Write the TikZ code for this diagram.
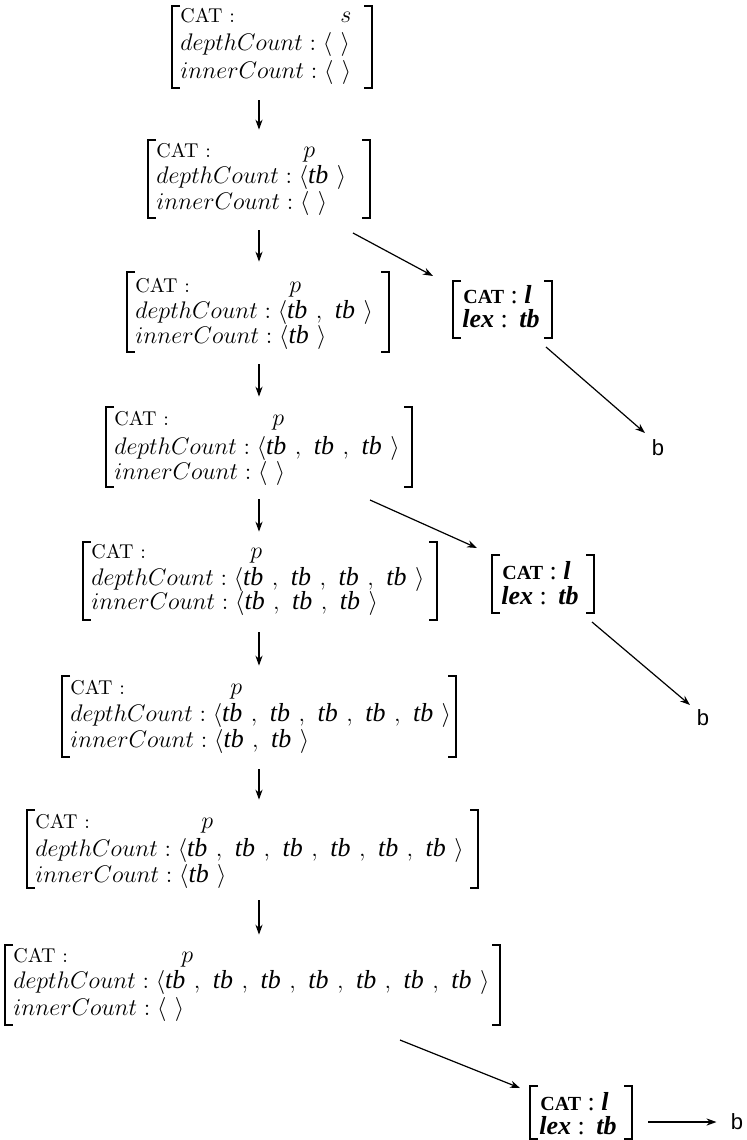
\documentclass[tikz,border=0pt]{standalone}
\usepackage{fontspec}
\usetikzlibrary{arrows.meta,fit}
\newfontfamily\tms{Liberation Serif}
\newfontfamily\tmsit{Liberation Serif Italic}
\newfontfamily\tmsbi{Liberation Serif Bold Italic}
\newfontfamily\hel{Liberation Sans}
\newcommand\tb{\mbox{\tmsit tb}}
% a bracketed attribute-value frame: name, left, top, right, bottom
\newcommand\avmframe[5]{%
  \draw[brk] (#2+8,#3) -- (#2,#3) -- (#2,#5) -- (#2+8,#5);
  \draw[brk] (#4-8,#3) -- (#4,#3) -- (#4,#5) -- (#4-8,#5);
  \node[fit={(#2,#3) (#4,#5)}, inner sep=0pt] (#1) {};
}
% the three rows of a large frame: name, left, y1, y2, y3, category, x of category, depth list, inner list
\newcommand\avmtext[9]{%
  \node[catf] (#1c) at (#2+8,#3+5) {CAT :};
  \node[fs] (#1v) at (#7,#3+5) {$#6$};
  \node[fs] (#1d) at (#2+8,#4+5) {$depthCount : #8$};
  \node[fs] (#1i) at (#2+8,#5+5) {$innerCount : #9$};
}
% the two rows of a lexical frame: name, left, y1, y2
\newcommand\lextext[4]{%
  \node[lexf] (#1c) at (#2+10,#3+5) {{\fontsize{10}{11}\selectfont\bfseries CAT} :};
  \node[lexf] (#1v) at (#2+71,#3+5) {\tmsbi l};
  \node[lexf] (#1l) at (#2+9,#4+5) {{\tmsbi lex} :};
  \node[lexf] (#1t) at (#2+66,#4+5) {\tmsbi tb};
}
\begin{document}
\begin{tikzpicture}[x=0.5pt, y=-0.5pt,
  brk/.style={line width=0.8pt},
  row/.style={inner sep=0pt, anchor=base west, text height=7.5pt, text depth=2pt},
  fs/.style={row, font=\fontsize{13}{15}\selectfont},
  catf/.style={row, font=\fontsize{10}{12}\selectfont},
  lexf/.style={row, font=\tms\fontsize{13}{15}\selectfont},
  leaf/.style={font=\hel\fontsize{11}{13}\selectfont, inner sep=0pt},
  arr/.style={-{Stealth[length=5pt,width=3.6pt]}, line width=0.6pt},
  down/.style={arr, shorten <=6pt, shorten >=5pt}]
\useasboundingbox (0,0) rectangle (746,1140);

% column of derivation steps
\avmframe{s1}{172}{6}{372}{88}
\avmtext{s1}{172}{17}{45}{73}{s}{340}{\langle\ \rangle}{\langle\ \rangle}

\avmframe{s2}{148}{140}{370}{218}
\avmtext{s2}{148}{152}{178}{204}{p}{303}{\langle\tb\ \rangle}{\langle\ \rangle}

\avmframe{s3}{127}{272}{389}{352}
\avmtext{s3}{127}{287}{313}{338}{p}{289}{\langle\tb\ ,\ \tb\ \rangle}{\langle\tb\ \rangle}

\avmframe{s4}{106}{407}{412}{487}
\avmtext{s4}{106}{420}{449}{474}{p}{272}{\langle\tb\ ,\ \tb\ ,\ \tb\ \rangle}{\langle\ \rangle}

\avmframe{s5}{83}{542}{437}{620}
\avmtext{s5}{83}{553}{580}{604}{p}{250}{\langle\tb\ ,\ \tb\ ,\ \tb\ ,\ \tb\ \rangle}{\langle\tb\ ,\ \tb\ ,\ \tb\ \rangle}

\avmframe{s6}{62}{676}{456}{757}
\avmtext{s6}{62}{689}{716}{742}{p}{230}{\langle\tb\ ,\ \tb\ ,\ \tb\ ,\ \tb\ ,\ \tb\ \rangle}{\langle\tb\ ,\ \tb\ \rangle}

\avmframe{s7}{27}{810}{478}{888}
\avmtext{s7}{27}{823}{851}{877}{p}{201}{\langle\tb\ ,\ \tb\ ,\ \tb\ ,\ \tb\ ,\ \tb\ ,\ \tb\ \rangle}{\langle\tb\ \rangle}

\avmframe{s8}{5}{945}{500}{1025}
\avmtext{s8}{5}{957}{983}{1010}{p}{181}{\langle\tb\ ,\ \tb\ ,\ \tb\ ,\ \tb\ ,\ \tb\ ,\ \tb\ ,\ \tb\ \rangle}{\langle\ \rangle}

% lexical frames and their leaves
\avmframe{l1}{453}{281}{552}{338}
\lextext{l1}{453}{298}{322}
\avmframe{l2}{492}{555}{594}{613}
\lextext{l2}{492}{574}{599}
\avmframe{l3}{530}{1086}{632}{1139}
\lextext{l3}{530}{1105}{1129}

\node[leaf] (b1) at (658,448) {b};
\node[leaf] (b2) at (703,718) {b};
\node[leaf] (b3) at (737,1122) {b};

% vertical steps
\coordinate (ax) at (259,0);
\draw[down] (s1.south -| ax) -- (s2.north -| ax);
\draw[down] (s2.south -| ax) -- (s3.north -| ax);
\draw[down] (s3.south -| ax) -- (s4.north -| ax);
\draw[down] (s4.south -| ax) -- (s5.north -| ax);
\draw[down] (s5.south -| ax) -- (s6.north -| ax);
\draw[down] (s6.south -| ax) -- (s7.north -| ax);
\draw[down] (s7.south -| ax) -- (s8.north -| ax);

% branches to lexical frames
\coordinate (e1a) at (353,233);
\coordinate (e1b) at (433,276);
\coordinate (e2a) at (546,347);
\coordinate (e2b) at (645,433);
\coordinate (e3a) at (370,500);
\coordinate (e3b) at (477,548);
\coordinate (e4a) at (592,622);
\coordinate (e4b) at (690,705);
\coordinate (e5a) at (400,1040);
\coordinate (e5b) at (520,1088);
\draw[arr] (e1a) -- (e1b);
\draw[arr] (e2a) -- (e2b);
\draw[arr] (e3a) -- (e3b);
\draw[arr] (e4a) -- (e4b);
\draw[arr] (e5a) -- (e5b);
\draw[arr, shorten <=8pt, shorten >=7pt] (l3.east |- b3) -- (b3);
\end{tikzpicture}
\end{document}
